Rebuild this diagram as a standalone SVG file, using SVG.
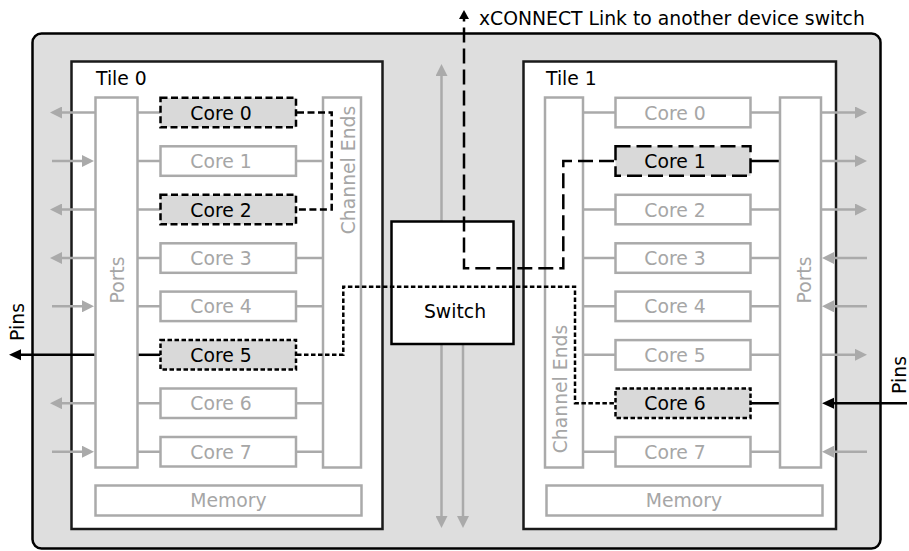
<svg xmlns="http://www.w3.org/2000/svg" width="909" height="551" viewBox="0 0 909 551">
<style>
text{font-family:"DejaVu Sans","Liberation Sans",sans-serif;font-size:18.8px}
.gt{fill:#a6a6a6}
.bt{fill:#000}
.box{fill:#fff;stroke:#aaa;stroke-width:2.5}
.tile{fill:#fff;stroke:#1a1a1a;stroke-width:2.5}
.gl{stroke:#aaa;stroke-width:2.5;fill:none}
.bl{stroke:#000;stroke-width:2.5;fill:none}
.hl{fill:#d9d9d9;stroke:#000;stroke-width:2.5}
.d1{stroke-dasharray:7,3.5}
.d2{stroke-dasharray:15,6}
.d3{stroke-dasharray:4.5,2.5}
.mid{text-anchor:middle}
</style>
<defs>
<marker id="ag" viewBox="0 0 12 12" refX="6" refY="6" markerWidth="12" markerHeight="12" markerUnits="userSpaceOnUse" orient="auto"><path d="M0,0 L12,6 L0,12 z" fill="#aaa"/></marker>
<marker id="ab" viewBox="0 0 12 12" refX="6" refY="6" markerWidth="12" markerHeight="12" markerUnits="userSpaceOnUse" orient="auto"><path d="M0,0.5 L12,6 L0,11.5 z" fill="#000"/></marker>
<marker id="as" viewBox="0 0 9 10" refX="4" refY="5" markerWidth="9" markerHeight="10" markerUnits="userSpaceOnUse" orient="auto"><path d="M0,0 L9,5 L0,10 z" fill="#000"/></marker>
</defs>

<g id="chip">
<rect x="32.5" y="33.5" width="848" height="515" rx="9" fill="#dedede" stroke="#000" stroke-width="2.5"/>
</g>

<g id="tile0">
<rect class="tile" x="71.5" y="61.5" width="311" height="467.5"/>
<text class="bt" x="96" y="85">Tile 0</text>
</g>
<g id="tile1">
<rect class="tile" x="523.5" y="61.5" width="312.5" height="467.5"/>
<text class="bt" x="546" y="85">Tile 1</text>
</g>

<g id="connectors">
<line class="gl" x1="441.5" y1="221" x2="441.5" y2="70" marker-end="url(#ag)"/>
<line class="gl" x1="441.5" y1="344" x2="441.5" y2="522" marker-end="url(#ag)"/>
<line class="gl" x1="463" y1="344" x2="463" y2="522" marker-end="url(#ag)"/>

<line class="gl" x1="95" y1="112.5" x2="56" y2="112.5" marker-end="url(#ag)"/>
<line class="gl" x1="52" y1="161" x2="88" y2="161" marker-end="url(#ag)"/>
<line class="gl" x1="95" y1="209.5" x2="56" y2="209.5" marker-end="url(#ag)"/>
<line class="gl" x1="95" y1="258" x2="56" y2="258" marker-end="url(#ag)"/>
<line class="gl" x1="52" y1="306.3" x2="88" y2="306.3" marker-end="url(#ag)"/>
<line class="bl" x1="95" y1="354.8" x2="15" y2="354.8" marker-end="url(#ab)"/>
<line class="gl" x1="95" y1="403.2" x2="56" y2="403.2" marker-end="url(#ag)"/>
<line class="gl" x1="52" y1="451.7" x2="88" y2="451.7" marker-end="url(#ag)"/>

<line class="gl" x1="821" y1="112.5" x2="861" y2="112.5" marker-end="url(#ag)"/>
<line class="gl" x1="821" y1="161" x2="861" y2="161" marker-end="url(#ag)"/>
<line class="gl" x1="821" y1="209.5" x2="861" y2="209.5" marker-end="url(#ag)"/>
<line class="gl" x1="867" y1="258" x2="828" y2="258" marker-end="url(#ag)"/>
<line class="gl" x1="867" y1="306.3" x2="828" y2="306.3" marker-end="url(#ag)"/>
<line class="gl" x1="821" y1="354.8" x2="861" y2="354.8" marker-end="url(#ag)"/>
<line class="bl" x1="907" y1="403.2" x2="828" y2="403.2" marker-end="url(#ab)"/>
<line class="gl" x1="867" y1="451.7" x2="828" y2="451.7" marker-end="url(#ag)"/>

<path class="gl" d="M137.5,112.5H160.5M137.5,161H160.5M137.5,209.5H160.5M137.5,258H160.5M137.5,306.3H160.5M137.5,403.2H160.5M137.5,451.7H160.5"/>
<path class="gl" d="M296,161H323M296,258H323M296,306.3H323M296,403.2H323M296,451.7H323"/>
<path class="bl" d="M137.5,354.8H160.5"/>

<path class="gl" d="M583,112.5H615.5M583,209.5H615.5M583,258H615.5M583,306.3H615.5M583,354.8H615.5M583,451.7H615.5"/>
<path class="gl" d="M750.5,112.5H780M750.5,209.5H780M750.5,258H780M750.5,306.3H780M750.5,354.8H780M750.5,451.7H780"/>
<path class="bl" d="M750.5,161H780M750.5,403.2H780"/>
</g>

<g id="switch">
<rect x="391.5" y="221.5" width="122" height="122.5" fill="#fff" stroke="#000" stroke-width="2.5"/>
<text class="bt mid" x="455" y="318">Switch</text>
</g>

<g id="t0-ports"><rect class="box" x="95.5" y="97.5" width="42" height="370"/><text class="gt mid" transform="translate(124,280) rotate(-90)">Ports</text></g>
<g id="t0-chanends"><rect class="box" x="323" y="97.5" width="38" height="370"/><text class="gt mid" transform="translate(355,170) rotate(-90)">Channel Ends</text></g>
<g id="t0-memory"><rect class="box" x="95.5" y="485.5" width="266" height="30"/><text class="gt mid" x="228.5" y="507.3">Memory</text></g>
<g id="t0-core0"><rect class="hl d1" x="160.5" y="97.8" width="135.5" height="29.5"/><text class="bt mid" x="221" y="119.5">Core 0</text></g>
<g id="t0-core1"><rect class="box" x="160.5" y="146.3" width="135.5" height="29.5"/><text class="gt mid" x="221" y="168">Core 1</text></g>
<g id="t0-core2"><rect class="hl d1" x="160.5" y="194.8" width="135.5" height="29.5"/><text class="bt mid" x="221" y="216.5">Core 2</text></g>
<g id="t0-core3"><rect class="box" x="160.5" y="243.3" width="135.5" height="29.5"/><text class="gt mid" x="221" y="265">Core 3</text></g>
<g id="t0-core4"><rect class="box" x="160.5" y="291.6" width="135.5" height="29.5"/><text class="gt mid" x="221" y="313.3">Core 4</text></g>
<g id="t0-core5"><rect class="hl d3" x="160.5" y="340.1" width="135.5" height="29.5"/><text class="bt mid" x="221" y="361.8">Core 5</text></g>
<g id="t0-core6"><rect class="box" x="160.5" y="388.5" width="135.5" height="29.5"/><text class="gt mid" x="221" y="410.2">Core 6</text></g>
<g id="t0-core7"><rect class="box" x="160.5" y="437" width="135.5" height="29.5"/><text class="gt mid" x="221" y="458.7">Core 7</text></g>

<g id="t1-chanends"><rect class="box" x="545" y="97.5" width="38" height="370"/><text class="gt mid" transform="translate(567,389) rotate(-90)">Channel Ends</text></g>
<g id="t1-ports"><rect class="box" x="780" y="97.5" width="41" height="370"/><text class="gt mid" transform="translate(811,280) rotate(-90)">Ports</text></g>
<g id="t1-memory"><rect class="box" x="546.5" y="485.5" width="276" height="30"/><text class="gt mid" x="684" y="507.3">Memory</text></g>
<g id="t1-core0"><rect class="box" x="615.5" y="97.8" width="135" height="29.5"/><text class="gt mid" x="675" y="119.5">Core 0</text></g>
<g id="t1-core1"><rect class="hl d2" x="615.5" y="146.3" width="135" height="29.5"/><text class="bt mid" x="675" y="168">Core 1</text></g>
<g id="t1-core2"><rect class="box" x="615.5" y="194.8" width="135" height="29.5"/><text class="gt mid" x="675" y="216.5">Core 2</text></g>
<g id="t1-core3"><rect class="box" x="615.5" y="243.3" width="135" height="29.5"/><text class="gt mid" x="675" y="265">Core 3</text></g>
<g id="t1-core4"><rect class="box" x="615.5" y="291.6" width="135" height="29.5"/><text class="gt mid" x="675" y="313.3">Core 4</text></g>
<g id="t1-core5"><rect class="box" x="615.5" y="340.1" width="135" height="29.5"/><text class="gt mid" x="675" y="361.8">Core 5</text></g>
<g id="t1-core6"><rect class="hl d3" x="615.5" y="388.5" width="135" height="29.5"/><text class="bt mid" x="675" y="410.2">Core 6</text></g>
<g id="t1-core7"><rect class="box" x="615.5" y="437" width="135" height="29.5"/><text class="gt mid" x="675" y="458.7">Core 7</text></g>

<g id="routes">
<path class="bl d1" d="M297,112.5H331.7V209.5H297"/>
<path class="bl d3" d="M297,354.8H343.3V286.7H575V403.2H614"/>
<path class="bl d2" d="M614,161H563.3V268.3H464V15" marker-end="url(#as)"/>
</g>

<g id="labels">
<text class="bt" x="479" y="25">xCONNECT Link to another device switch</text>
<text class="bt mid" transform="translate(24,322) rotate(-90)">Pins</text>
<text class="bt mid" transform="translate(906,375) rotate(-90)">Pins</text>
</g>
</svg>
